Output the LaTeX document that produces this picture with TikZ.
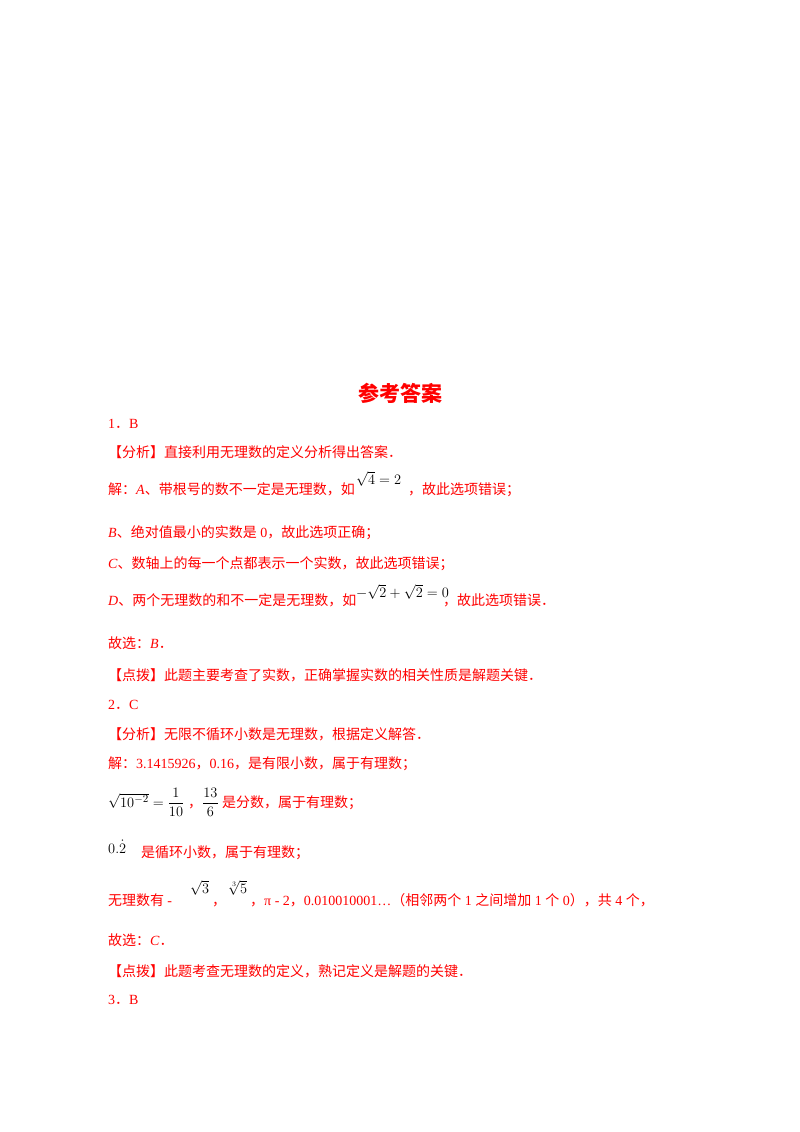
\documentclass[tikz,border=0pt]{standalone}
\usepackage{fontspec}
\setmainfont{Liberation Serif}
\newfontfamily\cjk{Noto Sans CJK SC}
\begin{document}
\begin{tikzpicture}[x=1pt,y=-1pt,
  ln/.style={anchor=base west,inner sep=0pt,text=red,font=\fontsize{14}{16}\selectfont},
  mth/.style={anchor=base west,inner sep=0pt,text=black,font=\fontsize{15}{17}\selectfont}]
\useasboundingbox[fill=white] (0,0) rectangle (800,1132);
\node[anchor=base,inner sep=0pt,text=red,font=\fontsize{21}{24}\selectfont\cjk\bfseries] (title) at (400,401) {参考答案};
\node[ln] (l1) at (108,428) {1{\cjk ．}B};
\node[ln] (l2) at (108,457) {\cjk【分析】直接利用无理数的定义分析得出答案．};
\node[ln] (l3) at (108,494) {\cjk 解：\textrm{\itshape A}、带根号的数不一定是无理数，如};
\node[mth] (m3) at (356,484) {$\sqrt{4}=2$};
\node[ln] (l3b) at (408,494) {\cjk ，故此选项错误；};
\node[ln] (l4) at (108,537) {\cjk\textrm{\itshape B}、绝对值最小的实数是\textrm{ 0}，故此选项正确；};
\node[ln] (l5) at (108,568) {\cjk\textrm{\itshape C}、数轴上的每一个点都表示一个实数，故此选项错误；};
\node[ln] (l6) at (108,605) {\cjk\textrm{\itshape D}、两个无理数的和不一定是无理数，如};
\node[mth] (m6) at (356,597) {$-\sqrt{2}+\sqrt{2}=0$};
\node[ln] (l6b) at (443,605) {\cjk ，故此选项错误．};
\node[ln] (l7) at (108,648) {\cjk 故选：\textrm{\itshape B}．};
\node[ln] (l8) at (108,680) {\cjk【点拨】此题主要考查了实数，正确掌握实数的相关性质是解题关键．};
\node[ln] (l9) at (108,709) {2{\cjk ．}C};
\node[ln] (l10) at (108,739) {\cjk【分析】无限不循环小数是无理数，根据定义解答．};
\node[ln] (l11) at (108,768) {\cjk 解：\textrm{3.1415926}，\textrm{0.16}，是有限小数，属于有理数；};
\node[mth] (m12) at (108,807) {$\sqrt{10^{-2}}=\displaystyle\frac{1}{10}$};
\node[ln] (l12a) at (188,807) {\cjk ，};
\node[mth] (m12b) at (202,807) {$\displaystyle\frac{13}{6}$};
\node[ln] (l12c) at (222,807) {\cjk 是分数，属于有理数；};
\node[mth] (m13) at (108,853) {$0.\dot{2}$};
\node[ln] (l13) at (141,857) {\cjk 是循环小数，属于有理数；};
\node[ln] (l14) at (108,905) {\cjk 无理数有 \textrm{-}};
\node[mth] (m14a) at (190,893) {$\sqrt{3}$};
\node[ln] (l14b) at (212,905) {\cjk ，};
\node[mth] (m14b) at (228,893) {$\sqrt[3]{5}$};
\node[ln] (l14c) at (250,905) {\cjk ，\textrm{π - 2}，\textrm{0.010010001…}（相邻两个\textrm{ 1 }之间增加\textrm{ 1 }个\textrm{ 0}），共\textrm{ 4 }个，};
\node[ln] (l15) at (108,945) {\cjk 故选：\textrm{\itshape C}．};
\node[ln] (l16) at (108,976) {\cjk【点拨】此题考查无理数的定义，熟记定义是解题的关键．};
\node[ln] (l17) at (108,1004) {3{\cjk ．}B};
\end{tikzpicture}
\end{document}
